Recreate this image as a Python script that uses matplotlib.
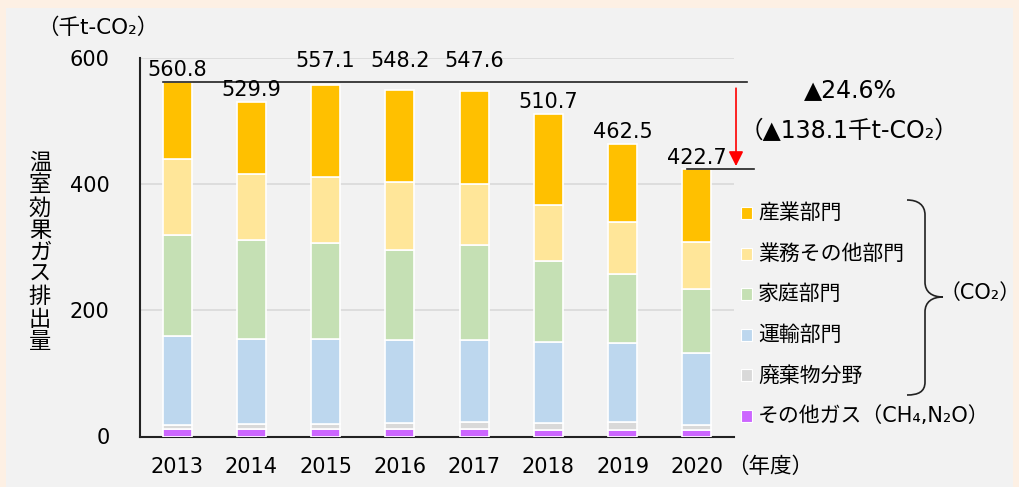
import matplotlib
matplotlib.use("Agg")
import matplotlib.pyplot as plt
from matplotlib.patches import Rectangle, PathPatch
from matplotlib.path import Path
import numpy as np

plt.rcParams['font.family'] = ['DejaVu Sans', 'Noto Sans CJK JP']

years = ['2013', '2014', '2015', '2016', '2017', '2018', '2019', '2020']
totals = [560.8, 529.9, 557.1, 548.2, 547.6, 510.7, 462.5, 422.7]

# stacked from the bottom up
other_gas = [11.4, 11.4, 11.4, 11.4, 11.4, 10.8, 10.8, 10.8]
waste = [6.1, 8.2, 8.2, 9.8, 11.4, 9.8, 12.0, 7.5]
transport = [141.2, 135.4, 134.9, 132.2, 130.7, 128.4, 125.2, 113.7]
household = [160.3, 156.0, 151.5, 142.6, 149.5, 128.8, 109.0, 101.8]
business = [120.7, 104.4, 105.0, 107.0, 96.5, 88.9, 83.0, 74.2]
industry = [121.1, 114.5, 146.1, 145.2, 148.1, 144.0, 122.5, 114.7]

series = [other_gas, waste, transport, household, business, industry]
colors = ['#CC66FF', '#D9D9D9', '#BDD7EE', '#C5E0B4', '#FFE699', '#FFC000']
legend_labels = ['産業部門', '業務その他部門', '家庭部門', '運輸部門', '廃棄物分野',
                 'その他ガス（CH₄,N₂O）']
legend_colors = colors[::-1]

W, H = 1019, 487
fig = plt.figure(figsize=(W / 100, H / 100), dpi=100, facecolor='#FDF0E4')
fig.patches.append(Rectangle((6 / W, 0), 1007 / W, 1 - 8 / H, transform=fig.transFigure,
                             facecolor='#F2F2F2', edgecolor='none', zorder=-10))

ax = fig.add_axes([140 / W, (H - 436.5) / H, 594 / W, 379 / H])
ax.patch.set_alpha(0)

x = np.arange(len(years))
bottom = np.zeros(len(years))
for vals, c in zip(series, colors):
    ax.bar(x, vals, width=0.39, bottom=bottom, color=c, edgecolor='white', linewidth=1.2, zorder=3)
    bottom += np.array(vals)

ax.set_xlim(-0.5, 7.5)
ax.set_ylim(0, 600)
ax.set_yticks([0, 200, 400, 600])
ax.set_xticks(x)
ax.set_xticklabels(years)
ax.tick_params(length=0, labelsize=15, pad=15)
ax.tick_params(axis='y', pad=22)
ax.grid(axis='y', color='#D9D9D9', linewidth=1.2, zorder=0)
ax.set_axisbelow(True)
for s in ['top', 'right']:
    ax.spines[s].set_visible(False)
for s in ['left', 'bottom']:
    ax.spines[s].set_color('#222222')
    ax.spines[s].set_linewidth(1.5)

raised = {'2015', '2016', '2017'}
for i, (yr, t) in enumerate(zip(years, totals)):
    ypos = 579 if yr in raised else t + 3
    ax.text(i, ypos, f'{t:.1f}', ha='center', va='bottom', fontsize=15, zorder=5)

# reference lines and the red arrow
ax.plot([-0.19, 7.68], [totals[0], totals[0]], color='#222222', lw=1.2, clip_on=False, zorder=4)
ax.plot([6.87, 7.77], [totals[-1], totals[-1]], color='#222222', lw=1.2, clip_on=False, zorder=4)
ax.annotate('', xy=(7.527, totals[-1] + 1), xytext=(7.527, totals[0] - 5),
            arrowprops=dict(arrowstyle='-|>', color='red', lw=1.2, mutation_scale=22),
            annotation_clip=False)

# overlay in pixel coordinates for the free texts
ov = fig.add_axes([0, 0, 1, 1])
ov.set_xlim(0, W)
ov.set_ylim(H, 0)
ov.axis('off')

ov.text(98, 28, '（千t-CO₂）', ha='center', va='center', fontsize=15.5)
ov.text(40, 252, '\n'.join('温室効果ガス排出量'), ha='center', va='center', fontsize=16,
        linespacing=1.13)
ov.text(770, 467, '（年度）', ha='center', va='center', fontsize=15.5)
ov.text(850, 90, '▲24.6%', ha='center', va='center', fontsize=17)
ov.text(849, 131, '（▲138.1千t-CO₂）', ha='center', va='center', fontsize=17)

for k, (lab, c) in enumerate(zip(legend_labels, legend_colors)):
    yy = 213 + 40.6 * k
    ov.add_patch(Rectangle((741, yy - 6), 11, 12, facecolor=c, edgecolor='white', lw=0.8))
    ov.text(758, yy, lab, ha='left', va='center', fontsize=15)

# brace
verts = [(907, 200), (918, 200), (925, 205), (925, 215),
         (925, 282),
         (925, 292), (932, 297), (943, 297),
         (932, 297), (925, 302), (925, 312),
         (925, 382),
         (925, 392), (918, 395), (907, 395)]
codes = [Path.MOVETO, Path.CURVE4, Path.CURVE4, Path.CURVE4,
         Path.LINETO,
         Path.CURVE4, Path.CURVE4, Path.CURVE4,
         Path.CURVE4, Path.CURVE4, Path.CURVE4,
         Path.LINETO,
         Path.CURVE4, Path.CURVE4, Path.CURVE4]
ov.add_patch(PathPatch(Path(verts, codes), facecolor='none', edgecolor='#222222', lw=1.2))
ov.text(980, 293, '（CO₂）', ha='center', va='center', fontsize=15)

fig.savefig('out.png', dpi=100, facecolor=fig.get_facecolor())
